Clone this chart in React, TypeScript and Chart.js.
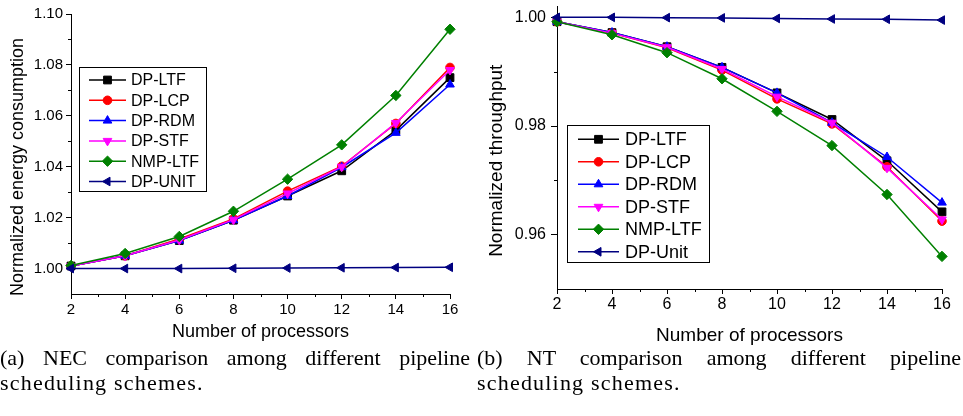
import React, { useEffect, useRef } from 'react';
import { Chart, registerables } from 'chart.js';
import { drawPoint } from 'chart.js/helpers';

Chart.register(...registerables);

// ---------- data ----------
const processors = [2, 4, 6, 8, 10, 12, 14, 16];
const xTicks = [2, 4, 6, 8, 10, 12, 14, 16];
const xMinorTicks = [3, 5, 7, 9, 11, 13, 15];

// (a) Normalized energy consumption
const necLabels = ['DP-LTF', 'DP-LCP', 'DP-RDM', 'DP-STF', 'NMP-LTF', 'DP-UNIT'];
const necLTF = [1.001, 1.005, 1.011, 1.019, 1.0285, 1.0384, 1.0543, 1.075];
const necLCP = [1.001, 1.005, 1.0116, 1.0195, 1.0304, 1.0402, 1.057, 1.079];
const necRDM = [1.001, 1.005, 1.011, 1.019, 1.0285, 1.0398, 1.0533, 1.0723];
const necSTF = [1.001, 1.005, 1.0112, 1.0192, 1.0295, 1.04, 1.0572, 1.078];
const necNMP = [1.0012, 1.0059, 1.0126, 1.0225, 1.0351, 1.0486, 1.068, 1.094];
const necUNIT = [1.0, 1.0, 1.0, 1.0001, 1.0002, 1.0003, 1.0004, 1.0005];
const necYTicks = [1.0, 1.02, 1.04, 1.06, 1.08, 1.1];
const necYMinor = [1.01, 1.03, 1.05, 1.07, 1.09];

// (b) Normalized throughput
const ntLabels = ['DP-LTF', 'DP-LCP', 'DP-RDM', 'DP-STF', 'NMP-LTF', 'DP-Unit'];
const ntLTF = [0.9992, 0.9972, 0.9946, 0.9908, 0.9861, 0.9812, 0.9736, 0.9642];
const ntLCP = [0.9992, 0.9971, 0.9944, 0.9903, 0.985, 0.9804, 0.9725, 0.9625];
const ntRDM = [0.9992, 0.9972, 0.9946, 0.9908, 0.9861, 0.9806, 0.9743, 0.9659];
const ntSTF = [0.9992, 0.9971, 0.9945, 0.9905, 0.9854, 0.9806, 0.9723, 0.9628];
const ntNMP = [0.9992, 0.9968, 0.9935, 0.9887, 0.9827, 0.9764, 0.9674, 0.956];
const ntUnit = [1.0, 1.0, 0.99995, 0.9999, 0.9998, 0.9997, 0.99965, 0.9995];
const ntYTicks = [0.96, 0.98, 1.0];
const ntYMinor = [0.97, 0.99];

// ---------- styles ----------
const seriesColors = ['#000000', '#ff0000', '#0000ff', '#ff00ff', '#008000', '#000080'];
const pointStyles = ['rect', 'circle', 'triangle', 'triangle', 'rectRot', 'triangle'];
const pointRotations = [0, 0, 0, 180, 0, -90];
const pointRadii = [5.5, 4.3, 5, 5, 5.2, 5];
const FONT = "'Liberation Sans', Arial, sans-serif";

type Panel = {
  left: number;
  w: number;
  h: number;
  labels: string[];
  series: number[][];
  yMin: number;
  yMax: number;
  yTicks: number[];
  yMinor: number[];
  yTitle: string;
  yTitleFont: number;
  yTitleX: number;
  yTitleDy: number;
  yAxisW: number;
  yTickFont: number;
  yTickPad: number;
  yTickLen: number;
  xAxisH: number;
  xTickFont: number;
  xTickPad: number;
  xTitleFont: number;
  xTitlePadB: number;
  pad: { top: number; right: number; left: number; bottom: number };
  legend: { x: number; y: number; w: number; h: number; rowY0: number; rowDy: number; lineX0: number; lineX1: number; textX: number; font: number };
};

const panelA: Panel = {
  left: 0, w: 480, h: 350,
  labels: necLabels,
  series: [necLTF, necLCP, necRDM, necSTF, necNMP, necUNIT],
  yMin: 0.99, yMax: 1.1, yTicks: necYTicks, yMinor: necYMinor,
  yTitle: 'Normalized energy consumption', yTitleFont: 18, yTitleX: 18, yTitleDy: 13,
  yAxisW: 71, yTickFont: 15, yTickPad: 3, yTickLen: 5,
  xAxisH: 56, xTickFont: 15, xTickPad: 2, xTitleFont: 18, xTitlePadB: 7,
  pad: { top: 14, right: 30, left: 0, bottom: 0 },
  legend: { x: 79, y: 67, w: 127, h: 124, rowY0: 80, rowDy: 20.3, lineX0: 89, lineX1: 126, textX: 131, font: 16 },
};

const panelB: Panel = {
  left: 480, w: 483, h: 350,
  labels: ntLabels,
  series: [ntLTF, ntLCP, ntRDM, ntSTF, ntNMP, ntUnit],
  yMin: 0.95, yMax: 1.002, yTicks: ntYTicks, yMinor: ntYMinor,
  yTitle: 'Normalized throughput', yTitleFont: 19, yTitleX: 17, yTitleDy: 13,
  yAxisW: 77, yTickFont: 16, yTickPad: 5, yTickLen: 6,
  xAxisH: 61, xTickFont: 16, xTickPad: 1, xTitleFont: 19, xTitlePadB: 3,
  pad: { top: 5, right: 21, left: 0, bottom: 0 },
  legend: { x: 87, y: 125, w: 142, h: 137, rowY0: 139.3, rowDy: 22.5, lineX0: 98, lineX1: 139, textX: 145, font: 18 },
};

function decorPlugin(p: Panel) {
  return {
    id: 'decor',
    afterDraw(chart: any) {
      const ctx: CanvasRenderingContext2D = chart.ctx;
      const xs = chart.scales.x;
      const ys = chart.scales.y;
      const ca = chart.chartArea;
      ctx.save();
      // minor ticks
      ctx.strokeStyle = '#000';
      ctx.lineWidth = 1;
      ctx.beginPath();
      xMinorTicks.forEach((v) => {
        const px = Math.round(xs.getPixelForValue(v)) + 0.5;
        ctx.moveTo(px, ca.bottom);
        ctx.lineTo(px, ca.bottom + 3);
      });
      p.yMinor.forEach((v) => {
        const py = Math.round(ys.getPixelForValue(v)) + 0.5;
        ctx.moveTo(ca.left - 3, py);
        ctx.lineTo(ca.left, py);
      });
      ctx.stroke();
      // y title
      ctx.save();
      ctx.translate(p.yTitleX, (ca.top + ca.bottom) / 2 + p.yTitleDy);
      ctx.rotate(-Math.PI / 2);
      ctx.fillStyle = '#000';
      ctx.font = `${p.yTitleFont}px ${FONT}`;
      ctx.textAlign = 'center';
      ctx.textBaseline = 'middle';
      ctx.fillText(p.yTitle, 0, 0);
      ctx.restore();
      // legend box
      const L = p.legend;
      ctx.strokeStyle = '#000';
      ctx.lineWidth = 1;
      ctx.fillStyle = '#fff';
      ctx.fillRect(L.x, L.y, L.w, L.h);
      ctx.strokeRect(L.x + 0.5, L.y + 0.5, L.w, L.h);
      p.labels.forEach((label, i) => {
        const y = L.rowY0 + i * L.rowDy;
        const c = seriesColors[i];
        ctx.strokeStyle = c;
        ctx.lineWidth = 1.5;
        ctx.beginPath();
        ctx.moveTo(L.lineX0, y);
        ctx.lineTo(L.lineX1, y);
        ctx.stroke();
        ctx.fillStyle = c;
        ctx.strokeStyle = c;
        ctx.lineWidth = 1;
        drawPoint(ctx, { pointStyle: pointStyles[i], radius: pointRadii[i], rotation: pointRotations[i], borderWidth: 1 } as any, (L.lineX0 + L.lineX1) / 2, y);
        ctx.fillStyle = '#000';
        ctx.font = `${L.font}px ${FONT}`;
        ctx.textAlign = 'left';
        ctx.textBaseline = 'middle';
        ctx.fillText(label, L.textX, y + 1);
      });
      ctx.restore();
    },
  };
}

function buildConfig(p: Panel): any {
  const datasets = p.series.map((vals, i) => ({
    label: p.labels[i],
    data: processors.map((x, j) => ({ x, y: vals[j] })),
    borderColor: seriesColors[i],
    backgroundColor: seriesColors[i],
    pointBackgroundColor: seriesColors[i],
    pointBorderColor: seriesColors[i],
    pointStyle: pointStyles[i],
    pointRotation: pointRotations[i],
    pointRadius: pointRadii[i],
    pointBorderWidth: 1,
    borderWidth: 1.5,
    tension: 0,
    clip: 12,
    order: 10 - i,
  }));
  return {
    type: 'line',
    data: { datasets },
    options: {
      animation: false,
      responsive: false,
      devicePixelRatio: 1,
      layout: { padding: p.pad },
      plugins: { legend: { display: false }, tooltip: { enabled: false } },
      scales: {
        x: {
          type: 'linear',
          min: 2,
          max: 16,
          afterBuildTicks: (s: any) => {
            s.ticks = xTicks.map((v) => ({ value: v }));
          },
          afterFit: (s: any) => {
            s.height = p.xAxisH;
            s.paddingLeft = 0;
            s.paddingRight = 0;
          },
          ticks: {
            color: '#000',
            font: { size: p.xTickFont, family: FONT },
            padding: p.xTickPad,
            maxRotation: 0,
            autoSkip: false,
            callback: (v: any) => String(v),
          },
          grid: { drawOnChartArea: false, drawTicks: true, tickLength: 5, color: '#000', lineWidth: 1 },
          border: { display: true, color: '#000', width: 1 },
          title: {
            display: true,
            text: 'Number of processors',
            color: '#000',
            font: { size: p.xTitleFont, family: FONT },
            padding: { top: 0, bottom: p.xTitlePadB },
          },
        },
        y: {
          type: 'linear',
          min: p.yMin,
          max: p.yMax,
          afterBuildTicks: (s: any) => {
            s.ticks = p.yTicks.map((v) => ({ value: v }));
          },
          afterFit: (s: any) => {
            s.width = p.yAxisW;
            s.paddingTop = 0;
            s.paddingBottom = 0;
          },
          ticks: {
            color: '#000',
            font: { size: p.yTickFont, family: FONT },
            padding: p.yTickPad,
            callback: (v: any) => Number(v).toFixed(2),
          },
          grid: { drawOnChartArea: false, drawTicks: true, tickLength: p.yTickLen, color: '#000', lineWidth: 1 },
          border: { display: true, color: '#000', width: 1 },
          title: { display: false },
        },
      },
    },
    plugins: [decorPlugin(p)],
  };
}

function PanelChart({ p }: { p: Panel }) {
  const ref = useRef<HTMLCanvasElement>(null);
  useEffect(() => {
    const chart = new Chart(ref.current as HTMLCanvasElement, buildConfig(p));
    return () => chart.destroy();
  }, [p]);
  return (
    <canvas
      ref={ref}
      width={p.w}
      height={p.h}
      style={{ position: 'absolute', left: p.left, top: 0, width: p.w, height: p.h }}
    />
  );
}

const captionStyle: React.CSSProperties = {
  position: 'absolute',
  top: 345,
  fontFamily: "'Liberation Serif', 'Times New Roman', serif",
  fontSize: 22,
  lineHeight: '25px',
  color: '#000',
};

export default function App() {
  return (
    <div style={{ position: 'fixed', left: 0, top: 0, width: 963, height: 416, background: '#fff', overflow: 'hidden' }}>
      <PanelChart p={panelA} />
      <PanelChart p={panelB} />
      <div style={{ ...captionStyle, left: 0, width: 470 }}>
        <div style={{ textAlign: 'justify', textAlignLast: 'justify' }}>(a) NEC comparison among different pipeline</div>
        <div style={{ letterSpacing: 1.2 }}>scheduling schemes.</div>
      </div>
      <div style={{ ...captionStyle, left: 477, width: 484 }}>
        <div style={{ textAlign: 'justify', textAlignLast: 'justify' }}>(b) NT comparison among different pipeline</div>
        <div style={{ letterSpacing: 1.2 }}>scheduling schemes.</div>
      </div>
    </div>
  );
}
